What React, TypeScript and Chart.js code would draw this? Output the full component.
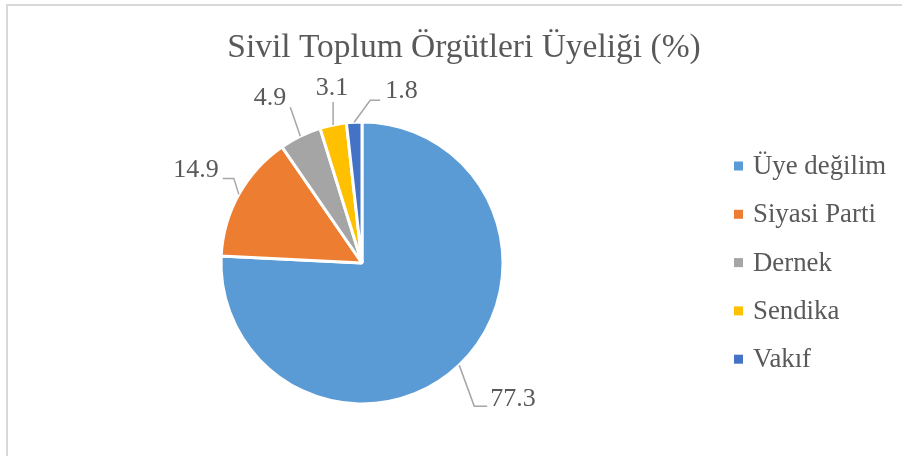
import React, { useEffect, useRef } from "react";
import { Chart, registerables } from "chart.js";

Chart.register(...registerables);

const TITLE = "Sivil Toplum Örgütleri Üyeliği (%)";
const categories = ["Üye değilim", "Siyasi Parti", "Dernek", "Sendika", "Vakıf"];
const values = [77.3, 14.9, 4.9, 3.1, 1.8];
const valueLabels = ["77.3", "14.9", "4.9", "3.1", "1.8"];
const colors = ["#5B9BD5", "#ED7D31", "#A5A5A5", "#FFC000", "#4472C4"];

const FONT = "'Liberation Serif', 'DejaVu Serif', serif";
const TEXT_COLOR = "#595959";
const LINE_COLOR = "#A6A6A6";

// leader line points (relative to slice anchor) and label placement
type Leader = { pts: [number, number][]; tx: number; ty: number; align: CanvasTextAlign };
const leaders: Leader[] = [
  { pts: [[15, 41], [28, 41]], tx: 31, ty: 34, align: "left" },
  { pts: [[-5, -16], [-16, -16]], tx: -20, ty: -24, align: "right" },
  { pts: [[-10, -29]], tx: -14, ty: -38, align: "right" },
  { pts: [[0, -23]], tx: -1, ty: -37, align: "center" },
  { pts: [[16, -22], [26, -22]], tx: 31, ty: -31, align: "left" },
];

const overlayPlugin = {
  id: "overlay",
  afterDraw(chart: any) {
    const ctx: CanvasRenderingContext2D = chart.ctx;
    ctx.save();
    // title
    ctx.fillStyle = TEXT_COLOR;
    ctx.font = `33.5px ${FONT}`;
    ctx.textAlign = "center";
    ctx.textBaseline = "alphabetic";
    ctx.fillText(TITLE, 464, 57);

    // data labels with leader lines
    const meta = chart.getDatasetMeta(0);
    meta.data.forEach((arc: any, i: number) => {
      const p = arc.getProps(["x", "y", "startAngle", "endAngle", "outerRadius"], true);
      const mid = (p.startAngle + p.endAngle) / 2;
      const ax = p.x + Math.cos(mid) * p.outerRadius;
      const ay = p.y + Math.sin(mid) * p.outerRadius;
      const L = leaders[i];
      ctx.strokeStyle = LINE_COLOR;
      ctx.lineWidth = 1.5;
      ctx.beginPath();
      ctx.moveTo(ax, ay);
      L.pts.forEach(([dx, dy]) => ctx.lineTo(ax + dx, ay + dy));
      ctx.stroke();
      ctx.fillStyle = TEXT_COLOR;
      ctx.font = `26px ${FONT}`;
      ctx.textAlign = L.align;
      ctx.textBaseline = "middle";
      ctx.fillText(valueLabels[i], ax + L.tx, ay + L.ty);
    });

    // legend
    const lx = 734;
    const ly0 = 166;
    const step = 48.3;
    ctx.font = `26.8px ${FONT}`;
    ctx.textAlign = "left";
    ctx.textBaseline = "middle";
    categories.forEach((c, i) => {
      const y = ly0 + i * step;
      ctx.fillStyle = colors[i];
      ctx.fillRect(lx, y - 4.5, 9, 9);
      ctx.fillStyle = TEXT_COLOR;
      ctx.fillText(c, lx + 19, y + 1);
    });
    ctx.restore();
  },
};

export default function App() {
  const ref = useRef<HTMLCanvasElement | null>(null);
  useEffect(() => {
    if (!ref.current) return;
    const chart = new Chart(ref.current, {
      type: "pie",
      data: {
        labels: categories,
        datasets: [
          {
            data: values,
            backgroundColor: colors,
            borderColor: "#FFFFFF",
            borderWidth: 3,
          },
        ],
      },
      options: {
        responsive: false,
        animation: false,
        layout: { padding: { left: 219.5, right: 397.5, top: 120.5, bottom: 50.5 } },
        plugins: {
          legend: { display: false },
          title: { display: false },
          tooltip: { enabled: false },
        },
      },
      plugins: [overlayPlugin],
    });
    return () => chart.destroy();
  }, []);
  return (
    <div style={{ position: "absolute", left: 0, top: 0, width: 902, height: 456, background: "#fff", overflow: "hidden" }}>
      <div
        style={{
          position: "absolute",
          left: 6,
          top: 4,
          width: 1000,
          height: 1000,
          borderLeft: "2px solid #D9D9D9",
          borderTop: "2px solid #D9D9D9",
        }}
      />
      <canvas ref={ref} width={902} height={456} style={{ position: "absolute", left: 0, top: 0 }} />
    </div>
  );
}
